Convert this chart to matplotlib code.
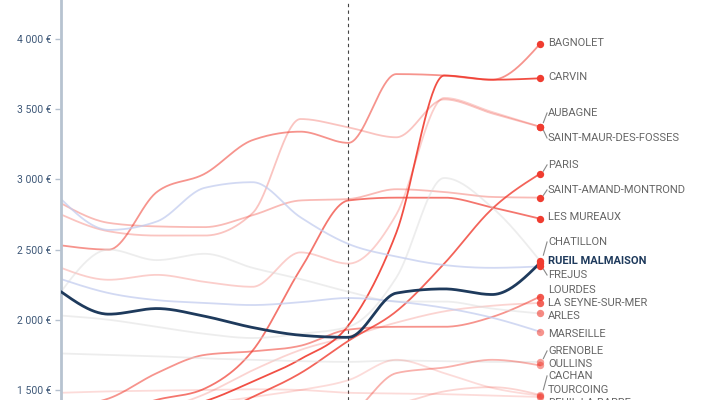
import numpy as np
import matplotlib
matplotlib.use('Agg')
import matplotlib.pyplot as plt

plt.rcParams['font.family'] = ['Roboto', 'DejaVu Sans']

# one value per step (11 steps), values in euros
steps = list(range(11))
split_step = 6

names = ['BAGNOLET', 'CARVIN', 'AUBAGNE', 'SAINT-MAUR-DES-FOSSES', 'PARIS',
         'SAINT-AMAND-MONTROND', 'LES MUREAUX', 'CHATILLON', 'RUEIL MALMAISON',
         'FREJUS', 'LOURDES', 'LA SEYNE-SUR-MER', 'ARLES', 'MARSEILLE',
         'GRENOBLE', 'OULLINS', 'CACHAN', 'TOURCOING', 'DEUIL-LA-BARRE']

bagnolet = [2530, 2500, 2910, 3040, 3280, 3340, 3260, 3750, 3740, 3710, 3965]
carvin = [1250, 1300, 1350, 1420, 1560, 1720, 1960, 2620, 3740, 3710, 3720]
aubagne = [2750, 2630, 2600, 2600, 2760, 3430, 3370, 3300, 3570, 3470, 3375]
saint_maur = [2370, 2285, 2320, 2270, 2235, 2480, 2400, 2750, 3580, 3480, 3375]
paris = [1050, 1120, 1200, 1300, 1450, 1620, 1850, 2060, 2400, 2790, 3040]
saint_amand = [2830, 2690, 2665, 2660, 2745, 2850, 2860, 2930, 2910, 2875, 2870]
les_mureaux = [1250, 1330, 1430, 1510, 1780, 2360, 2850, 2870, 2870, 2800, 2720]
chatillon = [2030, 2000, 1950, 1900, 1870, 1900, 1950, 2300, 3010, 2800, 2420]
rueil = [2200, 2040, 2080, 2025, 1945, 1890, 1875, 2190, 2220, 2180, 2405]
frejus = [2860, 2640, 2700, 2940, 2980, 2730, 2540, 2450, 2390, 2370, 2380]
lourdes = [1380, 1440, 1620, 1750, 1775, 1815, 1930, 1950, 1950, 2020, 2165]
la_seyne = [1150, 1250, 1350, 1470, 1640, 1785, 1880, 1980, 2060, 2100, 2120]
arles = [2200, 2500, 2425, 2470, 2370, 2290, 2200, 2130, 2130, 2080, 2045]
marseille = [2290, 2190, 2140, 2120, 2105, 2125, 2155, 2130, 2085, 2015, 1915]
grenoble = [1760, 1750, 1740, 1725, 1715, 1705, 1700, 1710, 1705, 1700, 1700]
oullins = [1000, 1050, 1100, 1150, 1200, 1250, 1320, 1620, 1660, 1715, 1675]
cachan = [1300, 1320, 1350, 1400, 1450, 1500, 1570, 1715, 1620, 1515, 1460]
tourcoing = [1200, 1220, 1250, 1280, 1300, 1330, 1360, 1400, 1490, 1520, 1465]
deuil = [1480, 1490, 1495, 1500, 1505, 1500, 1480, 1475, 1470, 1460, 1450]

series = [bagnolet, carvin, aubagne, saint_maur, paris, saint_amand, les_mureaux,
          chatillon, rueil, frejus, lourdes, la_seyne, arles, marseille,
          grenoble, oullins, cachan, tourcoing, deuil]

# where each label sits (euros)
label_pos = [3972, 3730, 3473, 3295, 3103, 2925, 2732, 2554, 2419, 2319,
             2210, 2122, 2027, 1899, 1778, 1685, 1600, 1500, 1407]

yticks = [1500, 2000, 2500, 3000, 3500, 4000]

RED = '#f03c30'
BLUE = '#c3cdef'
GREY = '#d8d8d8'
NAVY = '#1e3a5c'

line_style = {
    'BAGNOLET': (RED, 0.55), 'CARVIN': (RED, 0.9), 'AUBAGNE': (RED, 0.3),
    'SAINT-MAUR-DES-FOSSES': (RED, 0.25), 'PARIS': (RED, 0.8),
    'SAINT-AMAND-MONTROND': (RED, 0.35), 'LES MUREAUX': (RED, 0.7),
    'CHATILLON': (GREY, 0.45), 'RUEIL MALMAISON': (NAVY, 1.0),
    'FREJUS': (BLUE, 0.75), 'LOURDES': (RED, 0.55), 'LA SEYNE-SUR-MER': (RED, 0.22),
    'ARLES': (GREY, 0.45), 'MARSEILLE': (BLUE, 0.75), 'GRENOBLE': (GREY, 0.45),
    'OULLINS': (RED, 0.4), 'CACHAN': (RED, 0.18), 'TOURCOING': (RED, 0.22),
    'DEUIL-LA-BARRE': (RED, 0.18),
}
dot_alpha = [1, 1, 1, 1, 1, 1, 1, 1, 1, 1, 0.85, 0.8, 0.6, 0.55, 0.5, 0.5, 0.45, 0.45, 0.45]


def smooth(xs, ys, per=40):
    # monotone cubic (steffen) like d3.curveMonotoneX
    xs = np.asarray(xs, float)
    ys = np.asarray(ys, float)
    h = np.diff(xs)
    s = np.diff(ys) / h
    m = np.zeros_like(ys)
    for i in range(1, len(ys) - 1):
        p = (s[i - 1] * h[i] + s[i] * h[i - 1]) / (h[i - 1] + h[i])
        m[i] = (np.sign(s[i - 1]) + np.sign(s[i])) * min(abs(s[i - 1]), abs(s[i]), 0.5 * abs(p))
    m[0] = (3 * s[0] - m[1]) / 2
    m[-1] = (3 * s[-1] - m[-2]) / 2
    out_x, out_y = [], []
    for i in range(len(xs) - 1):
        t = np.linspace(0, 1, per, endpoint=False)
        h00 = 2 * t**3 - 3 * t**2 + 1
        h10 = t**3 - 2 * t**2 + t
        h01 = -2 * t**3 + 3 * t**2
        h11 = t**3 - t**2
        out_x.append(xs[i] + t * h[i])
        out_y.append(h00 * ys[i] + h10 * h[i] * m[i] + h01 * ys[i + 1] + h11 * h[i] * m[i + 1])
    out_x.append([xs[-1]])
    out_y.append([ys[-1]])
    return np.concatenate(out_x), np.concatenate(out_y)


fig = plt.figure(figsize=(7.2, 4), dpi=100)
ax = fig.add_axes([61 / 720, 0, 659 / 720, 1])
ax.set_xlim(0, 659 / 47.9)
ax.set_ylim(1428.6, 4277.8)

ax.axvline(split_step, color='#444444', lw=0.8, ls=(0, (3, 3)), zorder=1)

order = [n for n in names if n != 'RUEIL MALMAISON'] + ['RUEIL MALMAISON']
for name in order:
    vals = series[names.index(name)]
    col, a = line_style[name]
    sx, sy = smooth(steps, vals)
    lw = 2.0 if name == 'RUEIL MALMAISON' else 1.3
    ax.plot(sx, sy, color=col, alpha=a, lw=lw, solid_capstyle='round',
            zorder=5 if name == 'RUEIL MALMAISON' else 2)

x_end = steps[-1]
x_text = x_end + 8 / 47.9
for i, name in enumerate(names):
    v_end = series[i][-1]
    ax.scatter([x_end], [v_end], s=28, color=RED, alpha=dot_alpha[i], lw=0, zorder=6)
    lab = label_pos[i]
    if abs(lab - v_end) > 50:
        ax.plot([x_end + 0.07, x_text - 0.02], [v_end + 0.3 * (lab - v_end), lab],
                color='#888888', lw=0.8, zorder=4)
    if name == 'RUEIL MALMAISON':
        ax.text(x_text, lab, name, fontsize=8, color=NAVY, fontweight='bold',
                va='center', ha='left', clip_on=False)
    else:
        ax.text(x_text, lab, name, fontsize=8, color='#666666',
                va='center', ha='left', clip_on=False)

ax.set_yticks(yticks)
ax.set_yticklabels(['{:,}'.format(t).replace(',', ' ') + ' €' for t in yticks])
ax.set_xticks([])
ax.tick_params(axis='y', length=4, width=1, color='#b5c1cf', labelsize=7.5,
               labelcolor='#3e5878', pad=3)
for side in ['top', 'right', 'bottom']:
    ax.spines[side].set_visible(False)
ax.spines['left'].set_color('#b7c3d0')
ax.spines['left'].set_linewidth(2)

fig.savefig('out.png', dpi=100)
